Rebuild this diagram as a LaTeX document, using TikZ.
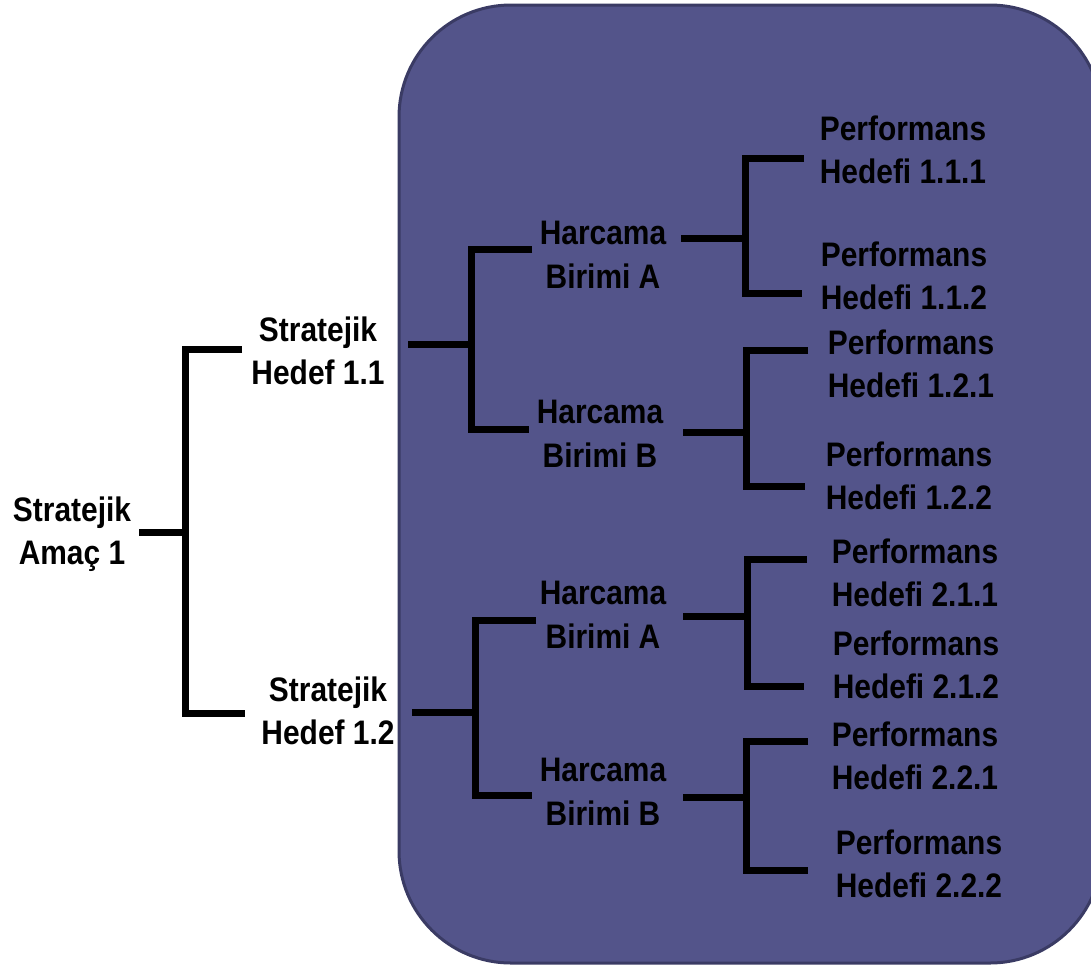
\documentclass[tikz,border=0pt]{standalone}
\usepackage{fontspec}
\setmainfont{Liberation Sans}[FakeStretch=0.88]
\definecolor{boxfill}{RGB}{83,84,138}
\definecolor{boxline}{RGB}{58,59,100}
\begin{document}
\begin{tikzpicture}[x=1pt,y=-1pt,
  lbl/.style={inner sep=2pt, align=center, text=black,
    font=\fontsize{34}{43.5}\selectfont\bfseries},
  conn/.style={line width=7pt, black, line join=miter, line cap=butt}]
\useasboundingbox (0,0) rectangle (1091,967);
% background panel
\draw[fill=boxfill, draw=boxline, line width=3pt, rounded corners=112pt]
  (399,5) rectangle (1102,963);

% text nodes
\node[lbl] (amac) at (72,534) {Stratejik\\Amaç 1};
\node[lbl] (h11) at (318,351) {Stratejik\\Hedef 1.1};
\node[lbl] (h12) at (328,711) {Stratejik\\Hedef 1.2};
\node[lbl] (ha1) at (603,255) {Harcama\\Birimi A};
\node[lbl] (hb1) at (600,434) {Harcama\\Birimi B};
\node[lbl] (ha2) at (603,615) {Harcama\\Birimi A};
\node[lbl] (hb2) at (603,792) {Harcama\\Birimi B};
\node[lbl] (p111) at (903,150) {Performans\\Hedefi 1.1.1};
\node[lbl] (p112) at (904,276) {Performans\\Hedefi 1.1.2};
\node[lbl] (p121) at (911,364) {Performans\\Hedefi 1.2.1};
\node[lbl] (p122) at (909,476) {Performans\\Hedefi 1.2.2};
\node[lbl] (p211) at (915,573) {Performans\\Hedefi 2.1.1};
\node[lbl] (p212) at (916,665) {Performans\\Hedefi 2.1.2};
\node[lbl] (p221) at (915,756) {Performans\\Hedefi 2.2.1};
\node[lbl] (p222) at (919,864) {Performans\\Hedefi 2.2.2};

% junction coordinates
\coordinate (amacout) at (139,532);
\coordinate (j0) at (185,532);
\coordinate (h11in) at (242,349);
\coordinate (h12in) at (245,713);

\coordinate (h11out) at (408,344);
\coordinate (j11) at (471,344);
\coordinate (ha1in) at (532,249);
\coordinate (hb1in) at (529,429);

\coordinate (h12out) at (412,712);
\coordinate (j12) at (475,712);
\coordinate (ha2in) at (536,620);
\coordinate (hb2in) at (532,795);

\coordinate (ha1out) at (681,238);
\coordinate (ja1) at (745,238);
\coordinate (p111in) at (804,158);
\coordinate (p112in) at (802,293);

\coordinate (hb1out) at (683,432);
\coordinate (jb1) at (746,432);
\coordinate (p121in) at (808,350);
\coordinate (p122in) at (805,486);

\coordinate (ha2out) at (683,616);
\coordinate (ja2) at (747,616);
\coordinate (p211in) at (807,559);
\coordinate (p212in) at (804,686);

\coordinate (hb2out) at (683,797);
\coordinate (jb2) at (746,797);
\coordinate (p221in) at (808,741);
\coordinate (p222in) at (808,870);

% connectors
\draw[conn] (amacout) -- (j0);
\draw[conn] (h11in) -| (j0) |- (h12in);

\draw[conn] (h11out) -- (j11);
\draw[conn] (ha1in) -| (j11) |- (hb1in);

\draw[conn] (h12out) -- (j12);
\draw[conn] (ha2in) -| (j12) |- (hb2in);

\draw[conn] (ha1out) -- (ja1);
\draw[conn] (p111in) -| (ja1) |- (p112in);

\draw[conn] (hb1out) -- (jb1);
\draw[conn] (p121in) -| (jb1) |- (p122in);

\draw[conn] (ha2out) -- (ja2);
\draw[conn] (p211in) -| (ja2) |- (p212in);

\draw[conn] (hb2out) -- (jb2);
\draw[conn] (p221in) -| (jb2) |- (p222in);
\end{tikzpicture}
\end{document}
